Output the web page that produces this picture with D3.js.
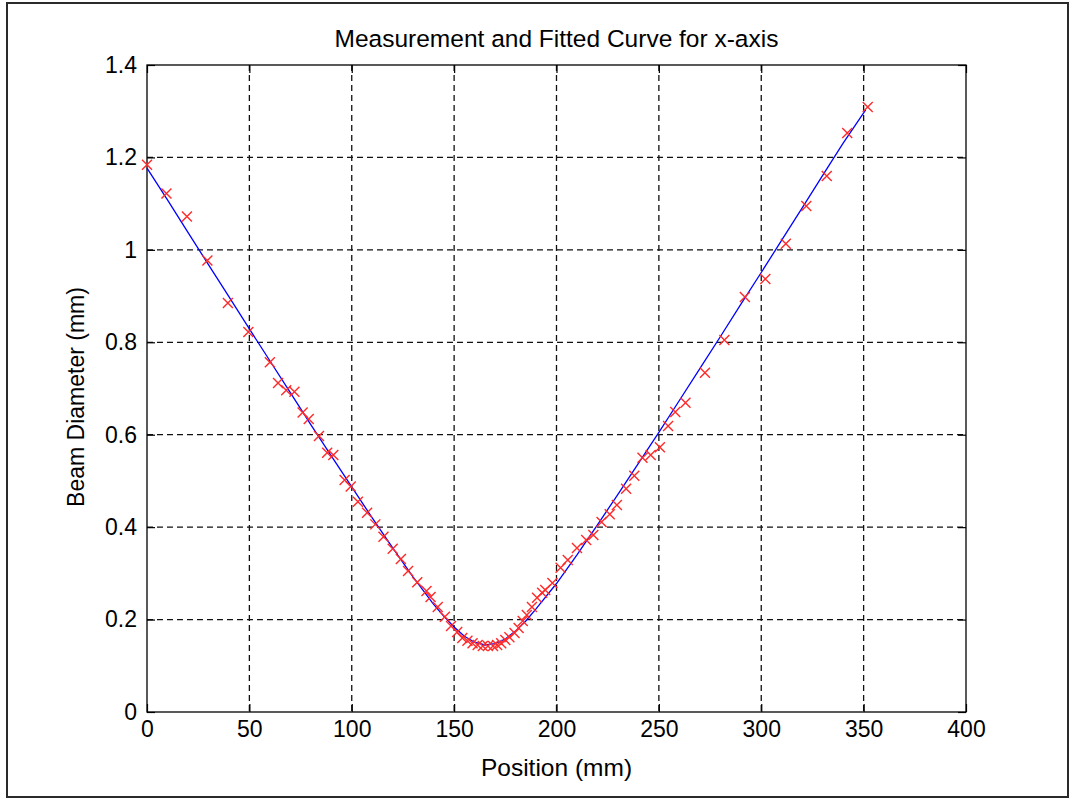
<!DOCTYPE html>
<html>
<head>
<meta charset="utf-8">
<script src="https://cdn.jsdelivr.net/npm/d3@7"></script>
<style>
  body { margin: 0; background: #fff; }
  text { font-family: "Liberation Sans", Arial, sans-serif; fill: #000; }
</style>
</head>
<body>
<div id="chart"></div>
<script>
// measured beam diameter (mm) at each position (mm)
const measPos = [0, 9.5, 19.5, 29.5, 39.5, 49.5, 60, 64, 68, 72, 76, 79, 84, 88, 91, 96.5, 99.5, 103, 107.5, 111.5,
    115.5, 120, 124, 127.5, 132, 136.5, 138.5, 142, 145.5, 148.5, 151.5, 154, 156.5, 159, 161.5, 164, 166.5, 169,
    171, 173, 175, 177, 179.5, 181.5, 183.5, 185.5, 188, 190.5, 193, 194.5, 198, 202, 205.5, 210, 214.5, 218, 222,
    226, 229.5, 234, 238, 242, 246, 250.5, 254.5, 258, 263, 272.5, 282, 292, 302, 312, 322, 332, 342, 352]
const measDia = [1.184, 1.122, 1.072, 0.977, 0.885, 0.822, 0.757, 0.712, 0.696, 0.693, 0.648, 0.634, 0.597, 0.561,
    0.556, 0.502, 0.488, 0.455, 0.431, 0.406, 0.379, 0.353, 0.331, 0.305, 0.281, 0.262, 0.249, 0.227, 0.206, 0.186,
    0.173, 0.160, 0.154, 0.149, 0.145, 0.143, 0.143, 0.143, 0.145, 0.149, 0.156, 0.162, 0.171, 0.182, 0.197, 0.210,
    0.227, 0.247, 0.258, 0.264, 0.279, 0.312, 0.329, 0.355, 0.372, 0.383, 0.411, 0.428, 0.448, 0.483, 0.511, 0.550,
    0.556, 0.573, 0.619, 0.649, 0.669, 0.734, 0.805, 0.898, 0.937, 1.013, 1.095, 1.160, 1.253, 1.309]

// fitted curve
const fitPos = [0, 10, 20, 30, 40, 50, 60, 70, 80, 90, 100, 110, 120, 130, 140, 145, 150, 155, 160, 165, 170, 175,
    180, 185, 190, 200, 210, 220, 230, 240, 250, 260, 270, 280, 290, 300, 310, 320, 330, 340, 351]
const fitDia = [1.177, 1.108, 1.038, 0.968, 0.899, 0.829, 0.760, 0.691, 0.622, 0.554, 0.487, 0.420, 0.355, 0.292,
    0.233, 0.207, 0.184, 0.164, 0.151, 0.145, 0.148, 0.158, 0.175, 0.197, 0.223, 0.278, 0.340, 0.405, 0.471, 0.538,
    0.605, 0.674, 0.743, 0.812, 0.882, 0.951, 1.021, 1.091, 1.161, 1.231, 1.303]

const xTicks = [0, 50, 100, 150, 200, 250, 300, 350, 400]
const yTicks = [0, 0.2, 0.4, 0.6, 0.8, 1, 1.2, 1.4]

const width = 1072
const height = 799
const plot = { left: 147, top: 65, right: 966, bottom: 712 }

const svg = d3.select('#chart')
    .append('svg')
    .attr('width', width)
    .attr('height', height)

// outer figure frame
svg.append('rect')
    .attr('x', 7).attr('y', 3)
    .attr('width', 1061).attr('height', 794)
    .attr('fill', '#fff')
    .attr('stroke', '#2a2a2a')
    .attr('stroke-width', 2)

const xScale = d3.scaleLinear().domain([0, 400]).range([plot.left, plot.right])
const yScale = d3.scaleLinear().domain([0, 1.4]).range([plot.bottom, plot.top])

// dashed grid
const grid = svg.append('g')
    .attr('stroke', '#111')
    .attr('stroke-width', 1.3)
    .attr('stroke-dasharray', '6,4')

grid.selectAll('.vgrid')
    .data(xTicks.slice(1, -1))
    .join('line')
    .attr('x1', d => xScale(d)).attr('x2', d => xScale(d))
    .attr('y1', plot.top).attr('y2', plot.bottom)

grid.selectAll('.hgrid')
    .data(yTicks.slice(1, -1))
    .join('line')
    .attr('y1', d => yScale(d)).attr('y2', d => yScale(d))
    .attr('x1', plot.left).attr('x2', plot.right)

// axes, ticks inside on all sides
const tickLen = 8
const fmt = d => d3.format('~g')(d)

const xAxis = svg.append('g')
    .attr('transform', `translate(0, ${plot.bottom})`)
    .call(d3.axisBottom(xScale).tickValues(xTicks).tickSize(-tickLen).tickPadding(9).tickFormat(fmt))
const xAxisTop = svg.append('g')
    .attr('transform', `translate(0, ${plot.top})`)
    .call(d3.axisTop(xScale).tickValues(xTicks).tickSize(-tickLen).tickFormat(''))
const yAxis = svg.append('g')
    .attr('transform', `translate(${plot.left}, 0)`)
    .call(d3.axisLeft(yScale).tickValues(yTicks).tickSize(-tickLen).tickPadding(10).tickFormat(fmt))
const yAxisRight = svg.append('g')
    .attr('transform', `translate(${plot.right}, 0)`)
    .call(d3.axisRight(yScale).tickValues(yTicks).tickSize(-tickLen).tickFormat(''))

;[xAxis, xAxisTop, yAxis, yAxisRight].forEach(ax => {
    ax.select('.domain').remove()
    ax.selectAll('line').attr('stroke', '#000').attr('stroke-width', 1.2)
    ax.selectAll('text').style('font-size', '23px').attr('fill', '#000')
})

svg.append('rect')
    .attr('x', plot.left).attr('y', plot.top)
    .attr('width', plot.right - plot.left).attr('height', plot.bottom - plot.top)
    .attr('fill', 'none')
    .attr('stroke', '#000')
    .attr('stroke-width', 1.3)

// fitted curve
const fitData = fitPos.map((p, i) => ({ pos: p, dia: fitDia[i] }))
const lineGenerator = d3.line()
    .x(d => xScale(d.pos))
    .y(d => yScale(d.dia))

svg.append('path')
    .datum(fitData)
    .attr('d', lineGenerator)
    .attr('fill', 'none')
    .attr('stroke', '#0000ff')
    .attr('stroke-width', 1.3)

// measurement markers (x shaped)
const m = 5
const measData = measPos.map((p, i) => ({ pos: p, dia: measDia[i] }))
svg.append('g')
    .selectAll('path')
    .data(measData)
    .join('path')
    .attr('d', d => {
        const cx = xScale(d.pos), cy = yScale(d.dia)
        return `M${cx - m},${cy - m}L${cx + m},${cy + m}M${cx - m},${cy + m}L${cx + m},${cy - m}`
    })
    .attr('fill', 'none')
    .attr('stroke', '#ff2a2a')
    .attr('stroke-width', 1.4)

// labels
svg.append('text')
    .attr('x', (plot.left + plot.right) / 2)
    .attr('y', 47)
    .attr('text-anchor', 'middle')
    .style('font-size', '24.5px')
    .text('Measurement and Fitted Curve for x-axis')

svg.append('text')
    .attr('x', (plot.left + plot.right) / 2)
    .attr('y', 776)
    .attr('text-anchor', 'middle')
    .style('font-size', '24.5px')
    .text('Position (mm)')

svg.append('text')
    .attr('transform', `translate(84, 397) rotate(-90)`)
    .attr('text-anchor', 'middle')
    .style('font-size', '23px')
    .text('Beam Diameter (mm)')
</script>
</body>
</html>
